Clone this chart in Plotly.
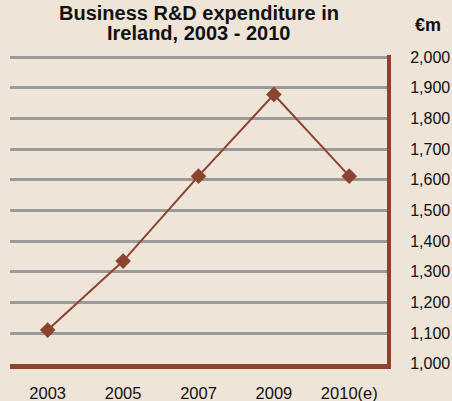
import plotly.graph_objects as go

years = ["2003", "2005", "2007", "2009", "2010(e)"]
spend = [1110, 1335, 1612, 1878, 1612]
y_ticks = [1000, 1100, 1200, 1300, 1400, 1500, 1600, 1700, 1800, 1900, 2000]
y_tick_labels = ["1,000", "1,100", "1,200", "1,300", "1,400", "1,500",
                 "1,600", "1,700", "1,800", "1,900", "2,000"]
title_lines = ["Business R&D expenditure in", "Ireland, 2003 - 2010"]
unit_label = "€m"

BROWN = "#8B4430"
BG = "#EEE4D8"
GRID = "#9A9A9A"
FONT = "Liberation Sans, Arial, sans-serif"

PLOT_TOP = 55
PLOT_H = 309

def ypx(px):
    return 1 + (PLOT_TOP - px) / PLOT_H

fig = go.Figure()
fig.add_trace(go.Scatter(
    x=years, y=spend, mode="lines+markers",
    line=dict(color=BROWN, width=2),
    marker=dict(symbol="diamond", size=12, color=BROWN),
    showlegend=False, cliponaxis=False,
))

fig.update_layout(
    width=452, height=401,
    paper_bgcolor=BG, plot_bgcolor=BG,
    margin=dict(l=10, r=65, t=PLOT_TOP, b=401 - PLOT_TOP - PLOT_H, autoexpand=False),
    font=dict(family=FONT, size=16, color="#111111"),
    xaxis=dict(
        type="category", range=[-0.5, 4.5], showgrid=False, zeroline=False,
        automargin=False, showline=True, linecolor=BROWN, linewidth=5,
        ticks="", ticklabelstandoff=10,
        tickfont=dict(size=16.5, color="#111111"),
    ),
    yaxis=dict(
        side="right", range=[999.5, 2007], automargin=False,
        tickvals=y_ticks, ticktext=y_tick_labels,
        showgrid=True, gridcolor=GRID, gridwidth=3,
        zeroline=False, showline=True, linecolor=BROWN, linewidth=4,
        ticks="", ticklabelstandoff=16,
        tickfont=dict(size=16, color="#111111"),
    ),
    annotations=[
        dict(text="<b>%s</b>" % title_lines[0], xref="paper", yref="paper",
             x=0.5, y=ypx(13), xanchor="center", yanchor="middle",
             showarrow=False, font=dict(family=FONT, size=20, color="#111111")),
        dict(text="<b>%s</b>" % title_lines[1], xref="paper", yref="paper",
             x=0.5, y=ypx(33), xanchor="center", yanchor="middle",
             showarrow=False, font=dict(family=FONT, size=20, color="#111111")),
        dict(text="<b>%s</b>" % unit_label, xref="paper", yref="paper",
             x=(428 - 10) / 377, y=ypx(25), xanchor="center", yanchor="middle",
             showarrow=False, font=dict(family=FONT, size=18, color="#111111")),
    ],
)

fig.write_html(
    "out.html",
    config={"displayModeBar": False},
    post_script="document.body.style.margin='0';document.body.style.background='%s';" % BG,
)
